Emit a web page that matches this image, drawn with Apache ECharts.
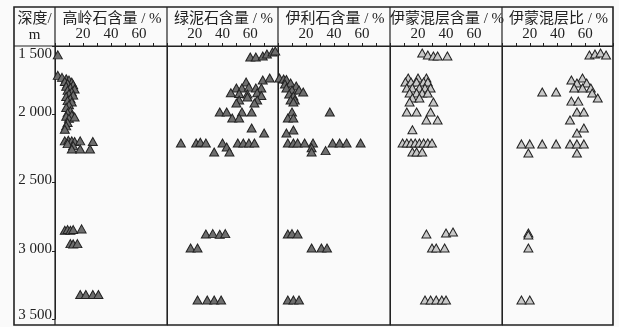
<!DOCTYPE html>
<html>
<head>
<meta charset="utf-8">
<script src="https://cdn.jsdelivr.net/npm/echarts@6/dist/echarts.min.js"></script>
<style>
  html, body { margin: 0; padding: 0; background: #fafafa; }
  #chart { width: 619px; height: 327px; }
</style>
</head>
<body>
<div id="chart"></div>
<script>
// Clay-mineral logs versus burial depth, one narrow track per mineral.
// Each point is [value %, depth m].

const panelTitles = ['高岭石含量 / %', '绿泥石含量 / %', '伊利石含量 / %', '伊蒙混层含量 / %', '伊蒙混层比 / %'];
const depthTicks = [1500, 2000, 2500, 3000, 3500];
const valueTickLabels = [20, 40, 60];

const kaolinite = [
  [2, 1565],
  [2, 1715], [5, 1730], [8, 1740], [10, 1750], [7, 1760], [12, 1765], [9, 1775], [13, 1785],
  [8, 1795], [11, 1805], [14, 1815], [9, 1825], [12, 1835], [10, 1850], [13, 1860], [8, 1870],
  [11, 1885], [9, 1900], [12, 1910], [10, 1930], [8, 1950], [11, 1975], [9, 1990], [12, 2005],
  [8, 2015], [10, 2030], [14, 2020], [9, 2060], [8, 2085], [7, 2110],
  [7, 2195], [9.5, 2190], [12, 2195], [14, 2200], [18, 2195], [27, 2200],
  [9, 2215], [13, 2230], [12, 2255], [18, 2255], [25, 2255],
  [7, 2850], [9, 2845], [11, 2850], [13, 2845], [19, 2840],
  [11, 2948], [13, 2950], [16, 2948],
  [18, 3321], [22, 3321], [27, 3321], [31, 3321]
];

const chlorite = [
  [60, 1579], [64, 1579], [69, 1572], [72, 1557], [76, 1543], [78, 1536],
  [69, 1744], [74, 1729],
  [57, 1758], [50, 1801], [54, 1801], [59, 1795], [64, 1801], [68, 1801],
  [46, 1835], [52, 1840], [58, 1845], [65, 1835], [58, 1865], [68, 1855], [52, 1887], [65, 1887],
  [50, 1909], [63, 1909], [38, 1973], [43, 1973], [54, 1973], [61, 1973], [47, 2016], [52, 2016],
  [61, 2088], [70, 2124],
  [10, 2195], [21, 2195], [24, 2190], [28, 2195], [40, 2195], [51, 2195], [55, 2195], [59, 2195], [63, 2195],
  [43, 2224], [34, 2260], [45, 2260],
  [28, 2848], [33, 2845], [38, 2850], [42, 2845],
  [17, 2948], [22, 2948],
  [22, 3321], [29, 3321], [34, 3321], [39, 3321]
];

const illite = [
  [1, 1729], [4, 1737], [6, 1740], [5, 1772], [9, 1765], [13, 1787], [6, 1801], [10, 1815], [15, 1815],
  [8, 1844], [11, 1858], [18, 1830], [9, 1887], [12, 1887], [11, 1901],
  [10, 1973], [37, 1973], [7, 2016], [11, 2016], [11, 2102], [6, 2124],
  [7, 2195], [11, 2195], [14, 2195], [19, 2195], [25, 2195], [39, 2195], [44, 2195], [49, 2195], [59, 2195],
  [24, 2230], [24, 2260], [34, 2250],
  [7, 2848], [10, 2845], [14, 2848],
  [24, 2948], [31, 2948], [35, 2948],
  [7, 3321], [11, 3321], [15, 3321]
];

const mixedLayer = [
  [23, 1550], [27, 1565], [31, 1572], [34, 1572], [41, 1572],
  [13, 1729], [20, 1729], [26, 1729],
  [11, 1758], [15, 1758], [19, 1758], [24, 1758], [27, 1758],
  [12, 1801], [16, 1801], [21, 1801], [25, 1801], [29, 1801],
  [14, 1837], [19, 1837], [23, 1837], [27, 1837],
  [16, 1873], [21, 1873], [14, 1901], [31, 1901],
  [12, 1973], [19, 1973], [29, 1973], [26, 2030], [34, 2030], [16, 2100],
  [9, 2195], [12, 2195], [15, 2195], [18, 2195], [21, 2195], [24, 2195], [27, 2195], [30, 2195],
  [16, 2260], [19, 2260], [23, 2260],
  [26, 2848], [40, 2840], [45, 2833],
  [30, 2948], [33, 2948], [39, 2948],
  [25, 3321], [29, 3321], [33, 3321], [37, 3321], [40, 3321]
];

const mixedLayerRatio = [
  [63, 1565], [67, 1557], [71, 1550], [75, 1565],
  [58, 1729], [50, 1744], [54, 1765], [61, 1765], [52, 1801], [58, 1801], [64, 1801],
  [29, 1830], [39, 1830], [65, 1837], [69, 1873], [50, 1895], [55, 1895],
  [54, 1973], [59, 1973], [49, 2030], [59, 2088], [54, 2124],
  [14, 2202], [20, 2202], [29, 2202], [39, 2202], [49, 2202], [54, 2202], [59, 2202],
  [19, 2267], [54, 2267],
  [19, 2840], [19, 2855], [19, 2948],
  [14, 3321], [20, 3321]
];

const panelData = [kaolinite, chlorite, illite, mixedLayer, mixedLayerRatio];
const panelFill = ['#6e6e6e', '#6e6e6e', '#6e6e6e', '#c8c8c8', '#c8c8c8'];

// Frame geometry in pixels
const frame = { left: 14, right: 613, top: 7, bottom: 325, header: 46, titleY: 19 };
const edges = [55, 167, 278, 390, 502, 613];
const ink = '#222222';
const serif = '"Liberation Serif", "Noto Sans CJK SC", serif';

const fmtDepth = v => String(v).replace(/(\d)(\d{3})$/, '$1 $2');

const grids = [], xAxes = [], yAxes = [], series = [];
panelTitles.forEach((title, i) => {
  grids.push({
    left: edges[i], width: edges[i + 1] - edges[i],
    top: frame.header, height: frame.bottom - frame.header,
    containLabel: false
  });
  xAxes.push({
    gridIndex: i, type: 'value', position: 'top',
    min: 0, max: 80, interval: 10,
    axisLine: { show: true, lineStyle: { color: ink, width: 1 } },
    axisTick: { show: true, length: 3, lineStyle: { color: ink } },
    axisLabel: {
      margin: 4, fontFamily: serif, fontSize: 15, color: ink,
      formatter: v => valueTickLabels.includes(v) ? String(v) : ''
    },
    splitLine: { show: false }
  });
  yAxes.push({
    gridIndex: i, type: 'value', inverse: true,
    min: depthTicks[0], max: depthTicks[depthTicks.length - 1], interval: 500,
    axisLine: { show: true, lineStyle: { color: ink, width: 1 } },
    axisTick: { show: i === 0, length: 3, lineStyle: { color: ink } },
    axisLabel: {
      show: i === 0, margin: 3, verticalAlign: 'middle', align: 'right',
      formatter: v => {
        const s = fmtDepth(v);
        if (v === depthTicks[0]) return '{g16| }\n{n|' + s + '}';
        if (v === depthTicks[depthTicks.length - 1]) return '{n|' + s + '}\n{g20| }';
        return '{n|' + s + '}\n{g10| }';
      },
      rich: {
        n: { fontFamily: serif, fontSize: 15, lineHeight: 15, color: ink },
        g10: { fontSize: 1, lineHeight: 4 },
        g16: { fontSize: 1, lineHeight: 17 },
        g20: { fontSize: 1, lineHeight: 7 }
      }
    },
    splitLine: { show: false }
  });
  series.push({
    type: 'scatter', xAxisIndex: i, yAxisIndex: i,
    data: panelData[i],
    symbol: 'triangle', symbolSize: [9, 8],
    itemStyle: { color: panelFill[i], borderColor: ink, borderWidth: 1, opacity: 1 },
    emphasis: { disabled: true }
  });
});

// Table frame: outer box, header rule, column separators and header texts
const frameLines = [];
frameLines.push({
  type: 'rect', silent: true,
  shape: { x: frame.left, y: frame.top, width: frame.right - frame.left, height: frame.bottom - frame.top },
  style: { fill: null, stroke: ink, lineWidth: 1.6 }
});
frameLines.push({
  type: 'line', silent: true,
  shape: { x1: frame.left, y1: frame.header, x2: frame.right, y2: frame.header },
  style: { stroke: ink, lineWidth: 1.2 }
});
edges.slice(0, -1).forEach(x => frameLines.push({
  type: 'line', silent: true,
  shape: { x1: x, y1: frame.top, x2: x, y2: frame.bottom },
  style: { stroke: ink, lineWidth: 1.2 }
}));
panelTitles.forEach((title, i) => frameLines.push({
  type: 'text', silent: true, x: (edges[i] + edges[i + 1]) / 2 + 1, y: frame.titleY,
  style: { text: title, fontFamily: serif, fontSize: 15, fill: ink, align: 'center', verticalAlign: 'middle' }
}));
frameLines.push({
  type: 'text', silent: true, x: (frame.left + edges[0]) / 2, y: frame.titleY,
  style: { text: '深度/', fontFamily: serif, fontSize: 15, fill: ink, align: 'center', verticalAlign: 'middle' }
});
frameLines.push({
  type: 'text', silent: true, x: (frame.left + edges[0]) / 2, y: 35,
  style: { text: 'm', fontFamily: serif, fontSize: 15, fill: ink, align: 'center', verticalAlign: 'middle' }
});

const chart = echarts.init(document.getElementById('chart'), null, { renderer: 'canvas' });
chart.setOption({
  backgroundColor: '#fafafa',
  animation: false,
  grid: grids,
  xAxis: xAxes,
  yAxis: yAxes,
  series: series,
  graphic: frameLines
});
</script>
</body>
</html>
